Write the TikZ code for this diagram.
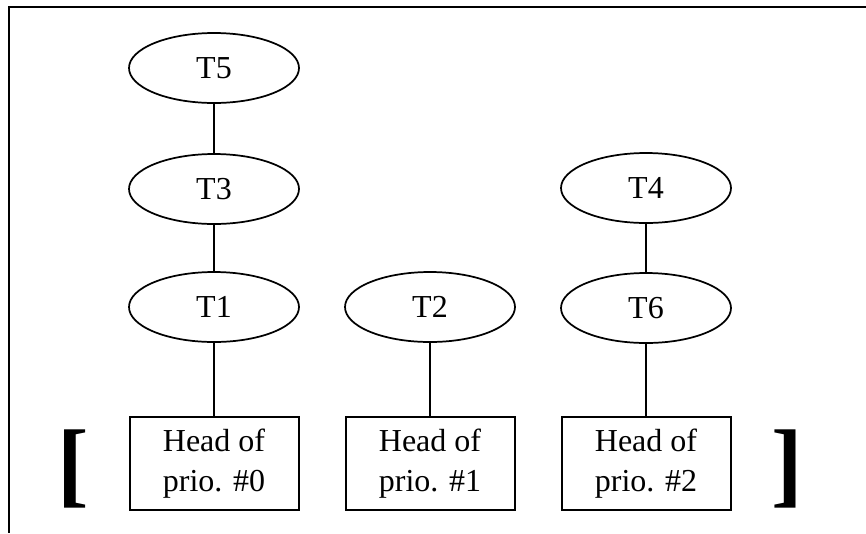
\documentclass[tikz,border=0pt]{standalone}
\usepackage{fontspec}
\setmainfont{Liberation Serif}
\usetikzlibrary{shapes.geometric}
\begin{document}
\begin{tikzpicture}[x=0.75pt,y=-0.75pt,
  task/.style={ellipse,draw,line width=1.3pt,minimum width=127.5pt,minimum height=52.5pt,inner sep=0pt,font=\fontsize{24}{30}\selectfont},
  headbox/.style={rectangle,draw,line width=1.5pt,minimum width=126.75pt,minimum height=69.75pt,inner sep=0pt,align=center,font=\fontsize{24}{30}\selectfont},
  link/.style={line width=1.3pt},
  brk/.style={inner sep=0pt,font=\fontsize{71}{80}\bfseries\selectfont}]
\useasboundingbox (0,0) rectangle (866,533);
\coordinate (fa) at (866,7);
\coordinate (fb) at (8.5,7);
\coordinate (fc) at (8.5,533);
\draw[line width=1.5pt] (fa) -- (fb) -- (fc);
\node[task] (t5) at (214,68) {T5};
\node[task] (t3) at (214,189) {T3};
\node[task] (t1) at (214,307) {T1};
\node[task] (t2) at (430,307) {T2};
\node[task] (t4) at (646,188) {T4};
\node[task] (t6) at (646,308) {T6};
\node[headbox] (h0) at (214,463.5) {Head of\\prio. \#0};
\node[headbox] (h1) at (430,463.5) {Head of\\prio. \#1};
\node[headbox] (h2) at (646,463.5) {Head of\\prio. \#2};
\node[brk] (lb) at (73,468.5) {[};
\node[brk] (rb) at (787.5,468.5) {]};
\draw[link] (t5) -- (t3);
\draw[link] (t3) -- (t1);
\draw[link] (t1) -- (h0);
\draw[link] (t2) -- (h1);
\draw[link] (t4) -- (t6);
\draw[link] (t6) -- (h2);
\end{tikzpicture}
\end{document}
